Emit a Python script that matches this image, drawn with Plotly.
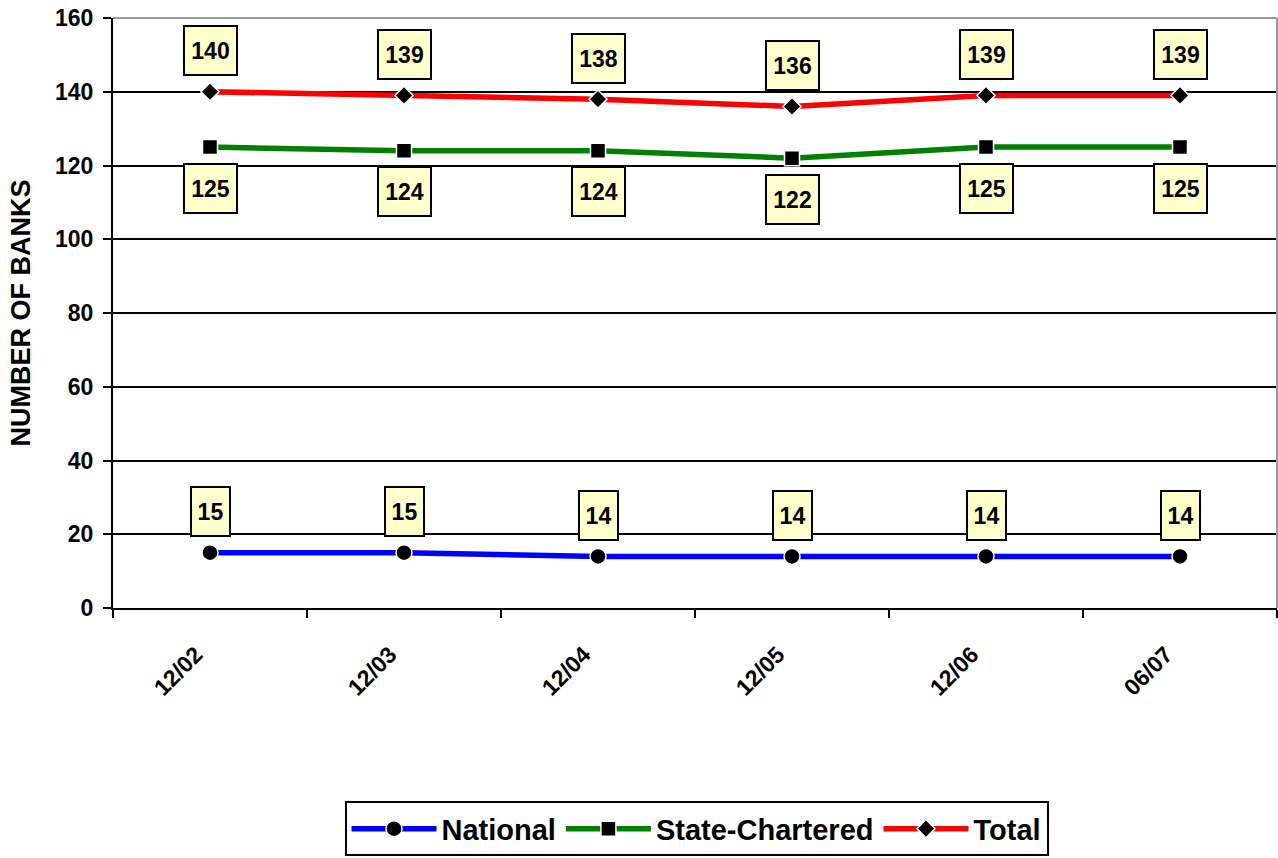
import plotly.graph_objects as go

periods = ["12/02", "12/03", "12/04", "12/05", "12/06", "06/07"]
national = [15, 15, 14, 14, 14, 14]
state_chartered = [125, 124, 124, 122, 125, 125]
total = [140, 139, 138, 136, 139, 139]

FONT = "Liberation Sans, Arial, sans-serif"

fig = go.Figure()

series = [
    ("National", national, "#0000FF", "circle", 16, -41),
    ("State-Chartered", state_chartered, "#008000", "square", 15, 41),
    ("Total", total, "#FF0000", "diamond", 14, -41),
]

for name, vals, color, symbol, msize, _ in series:
    fig.add_trace(go.Scatter(
        x=periods, y=vals, name=name, mode="lines+markers",
        line=dict(color=color, width=5.5),
        marker=dict(symbol=symbol, size=msize, color="black",
                    line=dict(color="white", width=1.5)),
    ))

# value boxes above / below each point
for name, vals, color, symbol, msize, shift in series:
    for p, v in zip(periods, vals):
        txt = str(v)
        fig.add_annotation(
            x=p, y=v, text=f"<b>{txt}</b>", showarrow=False,
            yshift=-shift, xanchor="center", yanchor="middle",
            font=dict(family=FONT, size=23, color="black"),
            bgcolor="#FFFFCC", bordercolor="black", borderwidth=2,
            borderpad=0, width=51 if len(txt) == 3 else 37, height=47,
        )

fig.update_layout(
    width=1278, height=858,
    margin=dict(l=113, r=1, t=18, b=250, autoexpand=False),
    paper_bgcolor="white", plot_bgcolor="white",
    font=dict(family=FONT, color="black"),
    showlegend=True,
    legend=dict(
        orientation="h", xref="container", x=0.545, xanchor="center",
        yref="container", y=0.002, yanchor="bottom",
        font=dict(family=FONT, size=29, color="black", weight="bold"),
        bordercolor="black", borderwidth=2, bgcolor="white",
        itemwidth=85, tracegroupgap=0,
    ),
    xaxis=dict(
        type="category", tickson="boundaries", ticks="outside", ticklen=8,
        tickwidth=2, tickcolor="black",
        showline=True, linecolor="black", linewidth=2,
        showgrid=False, tickangle=-45,
        ticklabelstandoff=22, ticklabelshift=-14,
        tickfont=dict(family=FONT, size=23, color="black", weight="bold"),
        range=[-0.5, 5.5],
    ),
    yaxis=dict(
        range=[0, 160], dtick=20, ticks="outside", ticklen=8,
        tickwidth=2, tickcolor="black",
        showline=True, linecolor="black", linewidth=2,
        showgrid=True, gridcolor="black", gridwidth=2,
        zeroline=False, ticklabelstandoff=5,
        tickfont=dict(family=FONT, size=23, color="black", weight="bold"),
        title=dict(text="NUMBER OF BANKS", standoff=17,
                   font=dict(family=FONT, size=27, color="black", weight="bold")),
    ),
)

# gray border on the top and right of the plot area
fig.add_shape(type="line", xref="paper", yref="paper", x0=0, x1=1, y0=1, y1=1,
              line=dict(color="#999999", width=2))
fig.add_shape(type="line", xref="paper", yref="paper", x0=1, x1=1, y0=0, y1=1,
              line=dict(color="#999999", width=2))

fig.write_html("out.html")
